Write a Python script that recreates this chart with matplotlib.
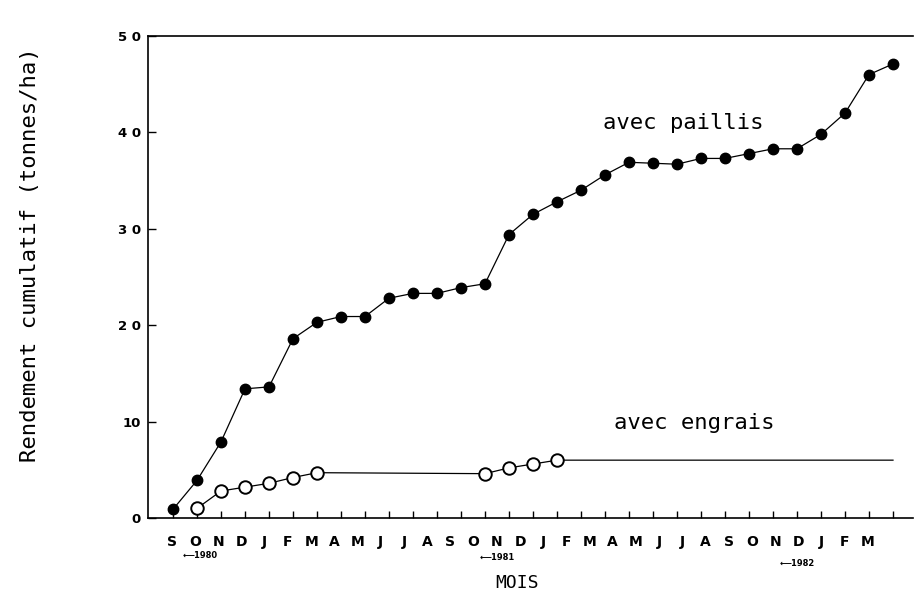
import matplotlib
matplotlib.use("Agg")
import matplotlib.pyplot as plt

months = ["S", "O", "N", "D", "J", "F", "M", "A", "M", "J", "J", "A", "S",
          "O", "N", "D", "J", "F", "M", "A", "M", "J", "J", "A", "S",
          "O", "N", "D", "J", "F", "M"]
paillis = [0.9, 3.9, 7.9, 13.4, 13.6, 18.6, 20.3, 20.9, 20.9, 22.8, 23.3,
           23.3, 23.9, 24.3, 29.4, 31.5, 32.8, 34.0, 35.6, 36.9, 36.8, 36.7,
           37.3, 37.3, 37.8, 38.3, 38.3, 39.8, 42.0, 46.0, 47.1]
engrais_idx = [1, 2, 3, 4, 5, 6, 13, 14, 15, 16]
engrais = [1.0, 2.8, 3.2, 3.6, 4.2, 4.7, 4.6, 5.2, 5.6, 6.0]
engrais_end_idx = 30
engrais_end = 6.0
yticks = [0, 10, 20, 30, 40, 50]
ytick_labels = ["0", "10", "2 0", "3 0", "4 0", "5 0"]
years = ["1980", "1981", "1982"]

W, H = 914, 602
fig = plt.figure(figsize=(W / 100, H / 100), dpi=100)
L, R, T, B = 148, 913, 36, 518
ax = fig.add_axes([L / W, (H - B) / H, (R - L) / W, (B - T) / H])

x0px, dx = 173, 24.0
ax.set_xlim((L - x0px) / dx, (R - x0px) / dx)
ax.set_ylim(0, 50)

ax.plot(range(len(paillis)), paillis, color="black", lw=0.9, marker="o",
        ms=7.5, mfc="black", mec="black", zorder=3)
ex = engrais_idx + [engrais_end_idx]
ey = engrais + [engrais_end]
ax.plot(ex, ey, color="black", lw=0.9, marker="o", ms=9, mfc="white",
        mec="black", mew=1.4, markevery=list(range(len(engrais))), zorder=3)

ax.spines["right"].set_visible(False)
for s in ["left", "bottom", "top"]:
    ax.spines[s].set_linewidth(1.2)

ax.set_yticks(yticks)
ax.set_yticklabels(ytick_labels, fontsize=9.5, fontweight="bold",
                   fontfamily="DejaVu Sans")
ax.tick_params(axis="y", direction="in", length=6, width=1, pad=5)
ax.set_xticks(range(len(months)))
ax.set_xticklabels([])
ax.tick_params(axis="x", direction="in", length=5, width=1)

# month labels (typed slightly tighter than the tick spacing)
lab0, ldx = 172, 23.2
f = lambda x: (x * dx + x0px - lab0) / ldx
finv = lambda i: (i * ldx + lab0 - x0px) / dx
sec = ax.secondary_xaxis("bottom", functions=(f, finv))
sec.set_xticks(range(len(months)))
sec.set_xticklabels(months, fontsize=10, fontweight="bold")
sec.tick_params(length=0, pad=12)
sec.spines["bottom"].set_visible(False)

for yr, px, py in zip(years, [200, 497, 797], [555, 558, 563]):
    fig.text(px / W, 1 - py / H, "\u27f5" + yr, fontsize=6, fontweight="bold",
             ha="center", va="center")

fig.text(30 / W, 1 - 255 / H, "Rendement cumulatif (tonnes/ha)",
         rotation=90, ha="center", va="center", fontsize=16,
         fontfamily="DejaVu Sans Mono")
fig.text(517 / W, 1 - 583 / H, "MOIS", ha="center", va="center",
         fontsize=13, fontfamily="DejaVu Sans Mono")
fig.text(683 / W, 1 - 123 / H, "avec paillis", ha="center", va="center",
         fontsize=16, fontfamily="DejaVu Sans Mono")
fig.text(694 / W, 1 - 423 / H, "avec engrais", ha="center", va="center",
         fontsize=16, fontfamily="DejaVu Sans Mono")

fig.savefig("out.png", dpi=100)
